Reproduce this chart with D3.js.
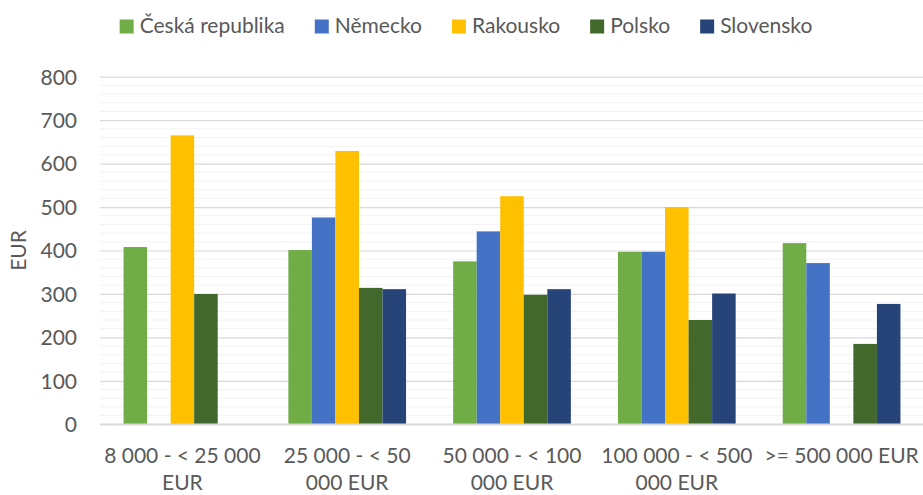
<!DOCTYPE html>
<html>
<head>
<meta charset="utf-8">
<script src="https://cdn.jsdelivr.net/npm/d3@7"></script>
<style>
  html, body { margin: 0; padding: 0; background: #fff; }
  svg { display: block; }
  text { font-family: Lato, "Open Sans", sans-serif; fill: #595959; }
</style>
</head>
<body>
<svg id="chart" width="923" height="495"></svg>
<script>
const categories = ["8 000 - < 25 000 EUR", "25 000 - < 50 000 EUR", "50 000 - < 100 000 EUR", "100 000 - < 500 000 EUR", ">= 500 000 EUR"];
const seriesNames = ["Česká republika", "Německo", "Rakousko", "Polsko", "Slovensko"];
const ceskaRepublika = [408, 401, 375, 397, 417];
const nemecko = [null, 476, 444, 397, 371];
const rakousko = [665, 629, 525, 500, null];
const polsko = [300, 314, 298, 240, 185];
const slovensko = [null, 311, 311, 301, 277];
const yTicks = [0, 100, 200, 300, 400, 500, 600, 700, 800];
const yTitle = "EUR";

const colors = ["#70ad47", "#4472c4", "#ffc000", "#43682b", "#264478"];
const seriesValues = [ceskaRepublika, nemecko, rakousko, polsko, slovensko];

const svg = d3.select("#chart");
const mLeft = 100, mRight = 924, mTop = 76.7, mBottom = 424.3;
const fontSize = 21;

const x0 = d3.scaleBand().domain(categories).range([mLeft, mRight]).padding(0);
const bw = x0.bandwidth();
const x1 = d3.scaleBand().domain(seriesNames).range([bw / 7, bw * 6 / 7]).padding(0);
const y = d3.scaleLinear().domain([0, 800]).range([mBottom, mTop]);

// minor gridlines
const minor = d3.range(0, 801, 20).filter(v => v % 100 !== 0);
svg.append("g").selectAll("line").data(minor).join("line")
  .attr("x1", mLeft).attr("x2", mRight)
  .attr("y1", d => y(d)).attr("y2", d => y(d))
  .attr("stroke", "#f2f2f2").attr("stroke-width", 1);

// major gridlines via axis
const yGrid = svg.append("g").attr("transform", `translate(${mLeft},0)`)
  .call(d3.axisLeft(y).tickValues(yTicks).tickSize(-(mRight - mLeft)).tickFormat(""));
yGrid.select(".domain").remove();
yGrid.selectAll("line").attr("stroke", "#d9d9d9").attr("stroke-width", 1.2);

// y tick labels
const yAxis = svg.append("g").attr("transform", `translate(${mLeft - 23},0)`)
  .call(d3.axisLeft(y).tickValues(yTicks).tickSize(0).tickPadding(0));
yAxis.select(".domain").remove();
yAxis.selectAll("text").style("font-size", fontSize + "px")
  .style("font-family", "Lato, sans-serif").attr("fill", "#595959").attr("dy", "0.35em");

// bars
const rows = [];
categories.forEach((c, i) => {
  seriesNames.forEach((s, j) => {
    const v = seriesValues[j][i];
    if (v != null) rows.push({ c, s, v, j });
  });
});
svg.append("g").selectAll("rect").data(rows).join("rect")
  .attr("x", d => x0(d.c) + x1(d.s))
  .attr("width", x1.bandwidth())
  .attr("y", d => y(d.v))
  .attr("height", d => y(0) - y(d.v))
  .attr("fill", d => colors[d.j]);

// x axis line
svg.append("line").attr("x1", mLeft).attr("x2", mRight)
  .attr("y1", y(0)).attr("y2", y(0))
  .attr("stroke", "#d9d9d9").attr("stroke-width", 1.5);

// x labels with wrapping
const xAxis = svg.append("g").attr("transform", `translate(0,${mBottom})`)
  .call(d3.axisBottom(x0).tickSize(0).tickPadding(0));
xAxis.select(".domain").remove();
xAxis.selectAll("text").each(function (d) {
  const t = d3.select(this);
  t.text(null).attr("y", 0).attr("dy", null)
    .style("font-size", fontSize + "px").style("font-family", "Lato, sans-serif").attr("fill", "#595959");
  const words = d.split(" ");
  const maxW = 158;
  let lines = [], cur = [];
  const probe = t.append("tspan");
  words.forEach(w => {
    const test = cur.concat([w]).join(" ");
    probe.text(test);
    if (probe.node().getComputedTextLength() > maxW && cur.length) {
      lines.push(cur.join(" "));
      cur = [w];
    } else cur.push(w);
  });
  lines.push(cur.join(" "));
  probe.remove();
  lines.forEach((ln, k) => {
    t.append("tspan").attr("x", 0).attr("y", 38.5 + k * 27.5).text(ln);
  });
});

// y title
svg.append("text").attr("transform", `translate(26,${(mTop + mBottom) / 2}) rotate(-90)`)
  .attr("text-anchor", "middle").style("font-size", fontSize + "px").text(yTitle);

// legend
const legend = svg.append("g");
let lx = 0;
seriesNames.forEach((s, j) => {
  const g = legend.append("g");
  g.append("rect").attr("x", 0).attr("y", -13).attr("width", 14).attr("height", 14).attr("fill", colors[j]);
  const tx = g.append("text").attr("x", 20).attr("y", 0).style("font-size", fontSize + "px").text(s);
  const w = 20 + tx.node().getComputedTextLength();
  g.attr("transform", `translate(${lx},0)`);
  lx += w + 30;
});
const totalW = lx - 30;
legend.attr("transform", `translate(${466 - totalW / 2},32.5)`);
</script>
</body>
</html>
